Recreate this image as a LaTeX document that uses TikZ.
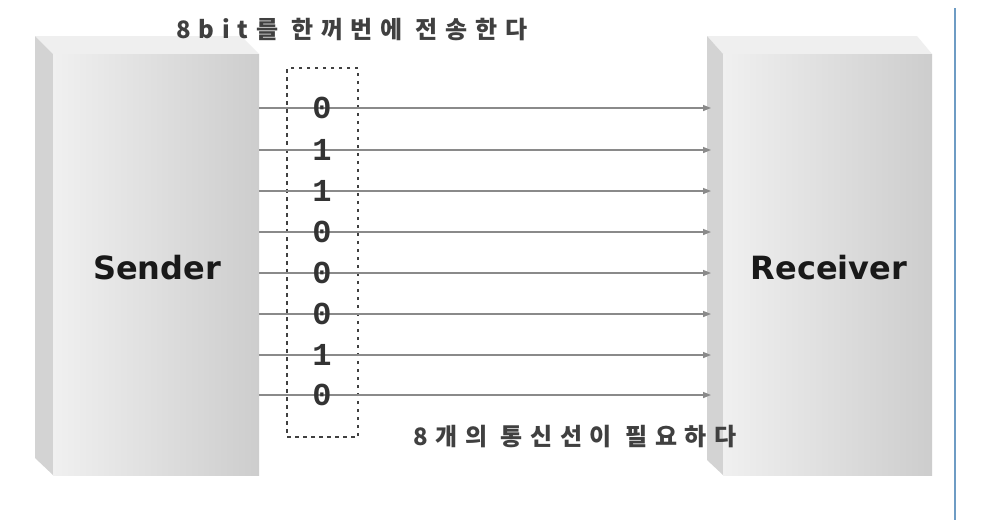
\documentclass[tikz,border=0pt]{standalone}
\usepackage{fontspec}
\setmainfont{DejaVu Sans}
\newfontfamily\krfont[LetterSpace=32]{Noto Sans CJK KR}
\newfontfamily\digitfont{Liberation Mono}
\usetikzlibrary{arrows.meta}
\definecolor{facefront}{HTML}{E6E6E6}
\definecolor{facedark}{HTML}{CDCDCD}
\definecolor{facetop}{HTML}{EFEFEF}
\definecolor{faceside}{HTML}{D3D3D3}
\definecolor{wire}{HTML}{8A8A8A}
\definecolor{bluebar}{HTML}{6E9CC4}
\tikzset{
  frontface/.style={rectangle, inner sep=0pt, draw=none, left color=facefront!60!white, right color=facedark},
  boxlabel/.style={font=\fontsize{32}{38}\selectfont\bfseries, text=black!90},
  bitlabel/.style={font=\digitfont\bfseries\fontsize{32}{34}\selectfont, text=black!80, inner sep=0pt},
  wirearrow/.style={draw=wire, line width=1.4pt, -{Triangle[length=8pt,width=6pt]}},
  krlabel/.style={font=\krfont\bfseries\fontsize{24}{28}\selectfont, text=black!75},
  bitframe/.style={draw=black!75, line width=2pt, dash pattern=on 3.5pt off 4.5pt}
}
\begin{document}
\begin{tikzpicture}[x=1pt,y=-1pt]
\useasboundingbox (0,0) rectangle (992,530);
\fill[white] (0,0) rectangle (992,530);
% sender box
\fill[facetop] (35,36) -- (241,36) -- (259,54) -- (53,54) -- cycle;
\fill[faceside] (35,36) -- (53,54) -- (53,475) -- (35,458) -- cycle;
\node[frontface, minimum width=206pt, minimum height=421pt] (sender) at (156,264.5) {};
\node[boxlabel] (sendertext) at (157,268) {Sender};
% receiver box
\fill[facetop] (707,36) -- (917,36) -- (932,54) -- (723,54) -- cycle;
\fill[faceside] (707,36) -- (723,54) -- (723,475) -- (707,460) -- cycle;
\node[frontface, minimum width=209pt, minimum height=421pt] (receiver) at (827.5,264.5) {};
\node[boxlabel] (receivertext) at (829,268) {Receiver};
% blue bar
\draw[bluebar, line width=2pt] (955,8) -- (955,520);
% dashed frame
\node[bitframe, rectangle, minimum width=71pt, minimum height=369pt, inner sep=0pt] (frame) at (322.5,252.5) {};
% wires
\foreach \i/\y/\b in {1/108/0, 2/150/1, 3/191/1, 4/232/0, 5/273/0, 6/314/0, 7/355/1, 8/395/0} {
  \coordinate (s\i) at (259,\y);
  \coordinate (r\i) at (711,\y);
  \draw[wirearrow] (s\i) -- (r\i);
  \node[bitlabel] (b\i) at (322,\y) {\b};
}
% labels
\node[krlabel] (toptext) at (352,30) {8bit를 한꺼번에 전송한다};
\node[krlabel] (bottomtext) at (575,437) {8개의 통신선이 필요하다};
\end{tikzpicture}
\end{document}
